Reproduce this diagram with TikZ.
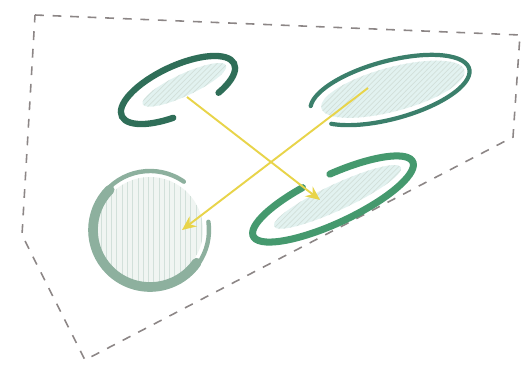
\documentclass[tikz,border=0pt]{standalone}
\usetikzlibrary{arrows.meta,patterns}
\definecolor{darkleaf}{HTML}{2F6E58}
\definecolor{tealleaf}{HTML}{3B7F6B}
\definecolor{midleaf}{HTML}{45996E}
\definecolor{sageleaf}{HTML}{8DB09E}
\definecolor{paleteal}{HTML}{E2F2F0}
\definecolor{palesage}{HTML}{F0F5F2}
\definecolor{hatchgray}{HTML}{D2E0DA}
\definecolor{linkyellow}{HTML}{E8D44A}
\definecolor{bordergray}{HTML}{8C8686}

\begin{document}
\begin{tikzpicture}[x=0.02cm, y=0.02cm,
    rim/.style={line width=#1, line cap=round},
    inside/.style={fill=paleteal, draw=none},
    hatch/.style={pattern=north east lines, pattern color=hatchgray},
    vhatch/.style={pattern=vertical lines, pattern color=hatchgray},
    link/.style={-{Stealth[length=8pt, width=7pt]}, line width=1.1pt, color=linkyellow},
    region/.style={draw=bordergray, dash pattern=on 5pt off 5pt, line width=0.9pt}
]
\useasboundingbox (0,0) rectangle (523,365);

% Boundary
\draw[region] (35,350) -- (520,330) -- (513,228) -- (85,5) -- (22,130) -- cycle;

% Top-left cluster
\begin{scope}[shift={(178,275)}, rotate=25]
  \path[inside] (8,2) ellipse [x radius=46, y radius=11];
  \path[hatch] (8,2) ellipse [x radius=46, y radius=11];
  \draw[darkleaf, rim=3.6pt] (-55:62 and 24) arc[start angle=-55, end angle=255, x radius=62, y radius=24];
\end{scope}

% Top-right cluster
\begin{scope}[shift={(390,275)}, rotate=15]
  \path[inside] (3,0) ellipse [x radius=74, y radius=22];
  \path[hatch] (3,0) ellipse [x radius=74, y radius=22];
  \draw[tealleaf, rim=2.4pt] (217:82 and 29) arc[start angle=217, end angle=530, x radius=82, y radius=29];
\end{scope}

% Bottom-left cluster
\begin{scope}[shift={(150,135)}]
  \path[fill=palesage] (0,0) circle [radius=53];
  \path[vhatch] (0,0) circle [radius=53];
  \draw[sageleaf, rim=2.5pt] (55:59) arc[start angle=55, end angle=368, radius=59];
  \draw[sageleaf, rim=5.5pt] (135:57) arc[start angle=135, end angle=325, radius=57];
\end{scope}

% Bottom-right cluster
\begin{scope}[shift={(333,166)}, rotate=25]
  \path[inside] (5,0) ellipse [x radius=70, y radius=13];
  \path[hatch] (5,0) ellipse [x radius=70, y radius=13];
  \draw[midleaf, rim=4pt] (105:88 and 24) arc[start angle=105, end angle=445, x radius=88, y radius=24];
\end{scope}

% Link ends
\coordinate (tlC) at (187,268);
\coordinate (trC) at (368,277);
\coordinate (blC) at (182,135);
\coordinate (brC) at (320,165);

% Links
\draw[link] (tlC) -- (brC);
\draw[link] (trC) -- (blC);

\end{tikzpicture}
\end{document}
